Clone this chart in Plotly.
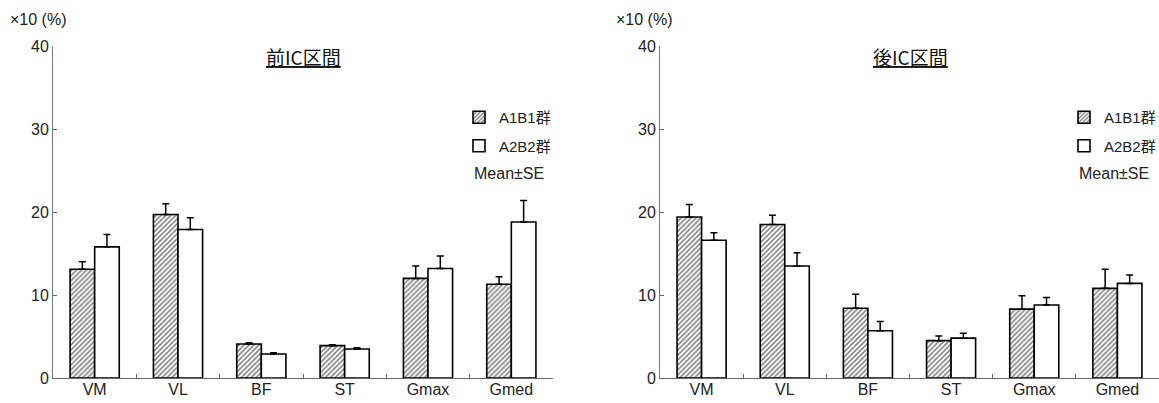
import plotly.graph_objects as go

categories = ["VM", "VL", "BF", "ST", "Gmax", "Gmed"]

# 前IC区間 (pre-IC interval)
pre_a1b1 = [13.1, 19.7, 4.1, 3.9, 12.0, 11.3]
pre_a1b1_se = [0.9, 1.3, 0.15, 0.12, 1.5, 0.9]
pre_a2b2 = [15.8, 17.9, 2.9, 3.5, 13.2, 18.8]
pre_a2b2_se = [1.5, 1.4, 0.15, 0.13, 1.5, 2.6]

# 後IC区間 (post-IC interval)
post_a1b1 = [19.4, 18.5, 8.4, 4.5, 8.3, 10.8]
post_a1b1_se = [1.5, 1.1, 1.7, 0.55, 1.6, 2.3]
post_a2b2 = [16.6, 13.5, 5.7, 4.8, 8.8, 11.4]
post_a2b2_se = [0.9, 1.6, 1.1, 0.6, 0.9, 1.0]

series_names = ["A1B1群", "A2B2群"]
panel_titles = ["前IC区間", "後IC区間"]
y_unit = "×10 (%)"
note = "Mean±SE"

FONT = "Liberation Sans, Arial, Noto Sans CJK JP, sans-serif"
JFONT = "Noto Sans CJK JP, Liberation Sans, sans-serif"
LFONT = "Liberation Sans, Noto Sans CJK JP, sans-serif"

W, H = 1159, 403
MT, MB = 46, 25

def py(ypix):
    return (H - MB - ypix) / (H - MT - MB)

fig = go.Figure()

def add_pair(vals_a, se_a, vals_b, se_b, xa, ya, legend):
    fig.add_trace(go.Bar(
        x=categories, y=vals_a, name=series_names[0], xaxis=xa, yaxis=ya,
        legend=legend, legendgroup=legend + "a", showlegend=True,
        marker=dict(color="white", line=dict(color="black", width=1.6),
                    pattern=dict(shape="/", fgcolor="black", bgcolor="white",
                                 size=3.5, solidity=0.45)),
        error_y=dict(type="data", array=se_a, arrayminus=[0] * len(se_a),
                     symmetric=False, color="black", thickness=1.5, width=3.5),
    ))
    fig.add_trace(go.Bar(
        x=categories, y=vals_b, name=series_names[1], xaxis=xa, yaxis=ya,
        legend=legend, legendgroup=legend + "b", showlegend=True,
        marker=dict(color="white", line=dict(color="black", width=1.6)),
        error_y=dict(type="data", array=se_b, arrayminus=[0] * len(se_b),
                     symmetric=False, color="black", thickness=1.5, width=3.5),
    ))

add_pair(pre_a1b1, pre_a1b1_se, pre_a2b2, pre_a2b2_se, "x", "y", "legend")
add_pair(post_a1b1, post_a1b1_se, post_a2b2, post_a2b2_se, "x2", "y2", "legend2")

dom1 = [53 / W, 553 / W]
dom2 = [660 / W, 1.0]

xcommon = dict(type="category", range=[-0.5, 5.5], showline=True, linecolor="#666",
               linewidth=1, ticks="inside", tickson="boundaries", ticklen=4,
               tickcolor="#666", showgrid=False, zeroline=False, ticklabelstandoff=-3,
               tickfont=dict(family=FONT, size=16, color="#222"))
ycommon = dict(range=[0, 40], dtick=10, showline=True, linecolor="#777", linewidth=1,
               ticks="inside", ticklen=4, tickcolor="#666", showgrid=False,
               zeroline=False, tickfont=dict(family=FONT, size=16, color="#222"))

legcommon = dict(font=dict(family=LFONT, size=15, color="#222"), bgcolor="rgba(0,0,0,0)",
                 traceorder="grouped", tracegroupgap=6, xanchor="left", yanchor="top",
                 itemclick=False)

fig.update_layout(
    width=W, height=H,
    margin=dict(l=0, r=0, t=MT, b=MB, autoexpand=False),
    paper_bgcolor="white", plot_bgcolor="white",
    barmode="group", bargap=0.41, bargroupgap=0,
    xaxis=dict(domain=dom1, anchor="y", **xcommon),
    yaxis=dict(domain=[0, 1], anchor="x", **ycommon),
    xaxis2=dict(domain=dom2, anchor="y2", **xcommon),
    yaxis2=dict(domain=[0, 1], anchor="x2", **ycommon),
    legend=dict(x=459 / W, y=py(101), **legcommon),
    legend2=dict(x=1064 / W, y=py(101), **legcommon),
    showlegend=True,
)

annots = []
for xc, title in [(303, panel_titles[0]), (910, panel_titles[1])]:
    annots.append(dict(text="<u>" + title + "</u>", x=xc / W, y=py(57),
                       xref="paper", yref="paper", xanchor="center", yanchor="middle",
                       showarrow=False, font=dict(family=JFONT, size=19, color="#111")))
for xl in [8, 614]:
    annots.append(dict(text=y_unit, x=xl / W, y=py(20), xref="paper", yref="paper",
                       xanchor="left", yanchor="middle", showarrow=False,
                       font=dict(family=FONT, size=16, color="#222")))
for xl in [472, 1077]:
    annots.append(dict(text=note, x=xl / W, y=py(173), xref="paper", yref="paper",
                       xanchor="left", yanchor="middle", showarrow=False,
                       font=dict(family=FONT, size=16, color="#222")))
fig.update_layout(annotations=annots)

fig.write_html("out.html", config={"displayModeBar": False},
               post_script="document.body.style.margin='0';")
